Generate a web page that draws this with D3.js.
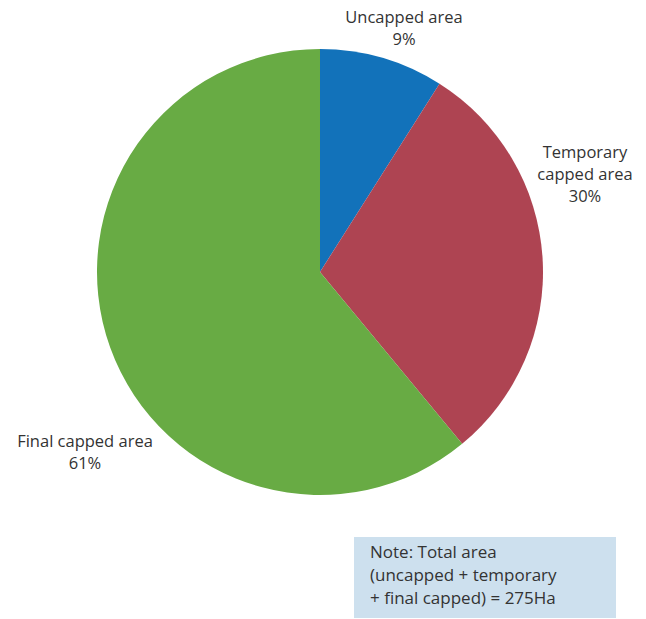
<!DOCTYPE html>
<html>
<head>
<meta charset="utf-8">
<script src="https://cdn.jsdelivr.net/npm/d3@7"></script>
<style>
  body { margin: 0; background: #fff; }
  text { font-family: "Open Sans", "Noto Sans", sans-serif; fill: #333; }
</style>
</head>
<body>
<svg id="chart" width="646" height="619"></svg>
<script>
const categories = ['Uncapped area', 'Temporary capped area', 'Final capped area'];
const shares = [9, 30, 61];
const colors = ['#1272ba', '#ae4452', '#68ab44'];
// label lines per slice (wrapped like the original)
const labelLines = [
  ['Uncapped area', '9%'],
  ['Temporary', 'capped area', '30%'],
  ['Final capped area', '61%']
];
const noteLines = ['Note: Total area', '(uncapped + temporary', '+ final capped) = 275Ha'];

const svg = d3.select('#chart');
const cx = 320, cy = 272, r = 223;

const pie = d3.pie().sort(null).value(d => d);
const arc = d3.arc().innerRadius(0).outerRadius(r);
const arcs = pie(shares);

const g = svg.append('g').attr('transform', `translate(${cx},${cy})`);
g.selectAll('path')
  .data(arcs)
  .enter().append('path')
  .attr('d', arc)
  .attr('fill', (d, i) => colors[i]);

// label anchor positions (from the picture), relative to centre
const labelPos = [[84, -249], [265, -114], [-235, 175]];
arcs.forEach((d, i) => {
  const [lx, ly] = labelPos[i];
  const t = g.append('text')
    .attr('text-anchor', 'middle')
    .attr('font-size', '16.5px');
  labelLines[i].forEach((line, j) => {
    t.append('tspan').attr('x', lx).attr('y', ly + j * 22).text(line);
  });
});

// note box
svg.append('rect')
  .attr('x', 354).attr('y', 537)
  .attr('width', 262).attr('height', 81)
  .attr('fill', '#cde0ee');
const note = svg.append('text').attr('font-size', '17px');
noteLines.forEach((line, j) => {
  note.append('tspan').attr('x', 370).attr('y', 558 + j * 23).text(line);
});
</script>
</body>
</html>
